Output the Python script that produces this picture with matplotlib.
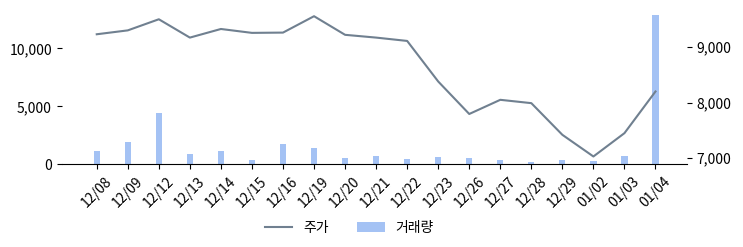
import numpy as np
import matplotlib.pyplot as plt

plt.rcParams['font.family'] = ['Noto Sans CJK KR', 'DejaVu Sans']

dates = ['12/08', '12/09', '12/12', '12/13', '12/14', '12/15', '12/16', '12/19',
         '12/20', '12/21', '12/22', '12/23', '12/26', '12/27', '12/28', '12/29',
         '01/02', '01/03', '01/04']
price = [9230, 9300, 9500, 9170, 9325, 9255, 9260, 9555,
         9220, 9170, 9110, 8380, 7795, 8050, 7990, 7420,
         7030, 7450, 8200]
volume = [1140, 1930, 4390, 880, 1140, 350, 1750, 1400,
          530, 730, 440, 610, 530, 350, 175, 350,
          260, 730, 12900]


def main():
    fig, ax1 = plt.subplots(figsize=(7.43, 2.47), dpi=100)
    x = np.arange(len(dates))

    bars = ax1.bar(x, volume, width=0.2, color='#a4c2f4', label='거래량')
    ax1.set_ylim(0, 12900)
    ax1.set_yticks([0, 5000, 10000])
    ax1.set_yticklabels(['0', '5,000', '10,000'])
    ax1.set_xlim(-1.13, 19)
    ax1.set_xticks(x)
    ax1.set_xticklabels(dates, rotation=45)

    ax2 = ax1.twinx()
    line, = ax2.plot(x, price, color='#708090', linewidth=1.5, label='주가')
    ax2.set_ylim(6890, 9580)
    ax2.set_yticks([7000, 8000, 9000])
    ax2.set_yticklabels(['7,000', '8,000', '9,000'])

    for ax in (ax1, ax2):
        for s in ('top', 'left', 'right'):
            ax.spines[s].set_visible(False)
        ax.tick_params(labelsize=10)
    ax2.spines['bottom'].set_visible(False)

    fig.legend([line, bars], ['주가', '거래량'], loc='lower center',
               bbox_to_anchor=(0.47, 0.0), ncol=2, frameon=False, fontsize=10)

    fig.subplots_adjust(left=0.083, right=0.924, top=0.94, bottom=0.335)
    plt.savefig("out.png", dpi=100)


if __name__ == "__main__":
    main()
